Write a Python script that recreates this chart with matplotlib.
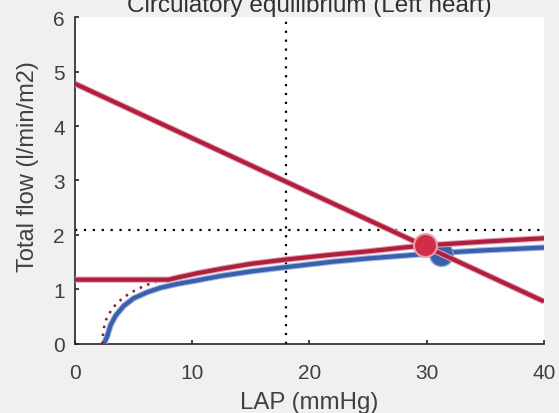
import matplotlib
matplotlib.use("Agg")
import matplotlib.pyplot as plt

# ---- data ----
blue_x = [2.5, 2.8, 3.06, 3.5, 4.2, 5.05, 6.2, 7.3, 8.7, 10, 12.5, 15, 18, 22, 25, 28, 31, 35, 40]
blue_y = [0.0, 0.15, 0.34, 0.52, 0.70, 0.84, 0.95, 1.03, 1.10, 1.15, 1.25, 1.33, 1.41, 1.51, 1.57, 1.62, 1.67, 1.72, 1.77]

red_x = [0, 8.0, 9, 10.5, 12.5, 15, 18, 22, 25, 28, 30, 35, 40]
red_y = [1.18, 1.18, 1.23, 1.30, 1.38, 1.47, 1.55, 1.64, 1.70, 1.77, 1.81, 1.88, 1.94]

red_dot_x = [2.38, 2.45, 2.7, 3.1, 3.5, 4.0, 4.7, 5.4, 6.1, 6.8, 7.5, 8.0]
red_dot_y = [0.0, 0.25, 0.45, 0.61, 0.72, 0.82, 0.93, 1.01, 1.08, 1.13, 1.17, 1.18]

venous_x = [0, 40]
venous_y = [4.78, 0.78]

ref_lap = 18
ref_flow = 2.1

blue_eq = (31.2, 1.65)
red_eq = (29.9, 1.82)

xticks = [0, 10, 20, 30, 40]
yticks = [0, 1, 2, 3, 4, 5, 6]

RED = "#b01f3d"
BLUE = "#3a60ad"
FONT = "Liberation Sans"

fig = plt.figure(figsize=(5.59, 4.14), dpi=100, facecolor="#f0f0f0")
ax = fig.add_axes([0.1333, 0.1667, 0.9732 - 0.1333, 0.9565 - 0.1667])
ax.set_facecolor("white")

# reference dotted lines
ax.plot([ref_lap, ref_lap], [0, 6], color="black", lw=1.6, ls=(0, (1, 3)), zorder=2)
ax.plot([0, 40], [ref_flow, ref_flow], color="black", lw=1.6, ls=(0, (1, 3)), zorder=2)

# blue curve + marker
ax.plot(blue_x, blue_y, color="#a3b6de", lw=4.5, zorder=3, solid_capstyle="butt")
ax.plot(blue_x, blue_y, color=BLUE, lw=3, zorder=3.1, solid_capstyle="butt")
ax.plot(*blue_eq, "o", ms=17, color=BLUE, mec="#7f98cc", mew=1, zorder=3.5)

# red curves
ax.plot(red_dot_x, red_dot_y, color="#8e1b33", lw=1.8, ls=(0, (1, 2.2)), zorder=3.2)
ax.plot(red_x, red_y, color="#e2a3b0", lw=4.5, zorder=4, solid_capstyle="butt")
ax.plot(red_x, red_y, color=RED, lw=3, zorder=4.1, solid_capstyle="butt")
ax.plot(venous_x, venous_y, color="#e2a3b0", lw=4.5, zorder=4.2, solid_capstyle="butt")
ax.plot(venous_x, venous_y, color=RED, lw=3, zorder=4.3, solid_capstyle="butt")
ax.plot(*red_eq, "o", ms=16.5, color="#d02d48", mec="#ee9aa8", mew=1.5, zorder=5)

ax.set_xlim(0, 40)
ax.set_ylim(0, 6)
ax.set_xticks(xticks)
ax.set_yticks(yticks)
ax.spines["top"].set_visible(False)
ax.spines["right"].set_visible(False)
for s in ("left", "bottom"):
    ax.spines[s].set_color("#262626")
    ax.spines[s].set_linewidth(1.2)

ax.tick_params(axis="both", direction="in", length=3, width=1.2, color="#262626",
               labelsize=15, labelcolor="#404040")
ax.tick_params(axis="y", pad=7)
ax.tick_params(axis="x", pad=13.5)

for lab in ax.get_xticklabels() + ax.get_yticklabels():
    lab.set_family(FONT)

ax.set_xlabel("LAP (mmHg)", fontsize=17.3, family=FONT, color="#404040", labelpad=7)
ax.set_ylabel("Total flow (l/min/m2)", fontsize=17, family=FONT, color="#404040")
ax.yaxis.set_label_coords(-0.075, 0.547)
ax.set_title("Circulatory equilibrium (Left heart)", fontsize=17.5, family=FONT,
             color="#303030", pad=4.5)

fig.savefig("out.png", dpi=100, facecolor=fig.get_facecolor())
